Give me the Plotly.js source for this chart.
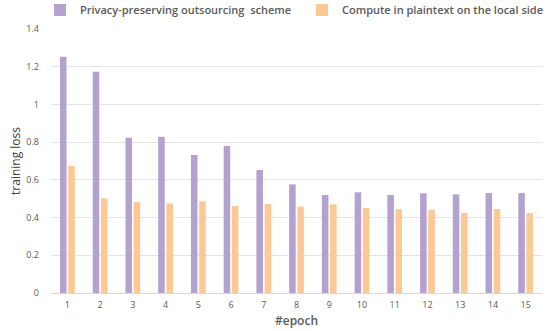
<!DOCTYPE html>
<html>
<head>
<meta charset="utf-8">
<script src="https://cdn.plot.ly/plotly-3.0.1.min.js"></script>
<style>html,body{margin:0;padding:0;background:#fff;}#chart{width:550px;height:331px;}</style>
</head>
<body>
<div id="chart"></div>
<script>
const epochs = ['1','2','3','4','5','6','7','8','9','10','11','12','13','14','15'];
const privacyLoss = [1.253, 1.173, 0.823, 0.829, 0.732, 0.779, 0.652, 0.576, 0.520, 0.534, 0.520, 0.529, 0.523, 0.530, 0.530];
const plainLoss = [0.673, 0.502, 0.482, 0.475, 0.486, 0.461, 0.472, 0.458, 0.470, 0.451, 0.444, 0.440, 0.424, 0.445, 0.424];
const seriesNames = ['Privacy-preserving outsourcing  scheme', 'Compute in plaintext on the local side'];
const yTicks = [0, 0.2, 0.4, 0.6, 0.8, 1, 1.2, 1.4];

const FONT = 'Open Sans, Liberation Sans, sans-serif';
const traces = [
  {type:'bar', x: epochs, y: privacyLoss, name: seriesNames[0], marker:{color:'#b3a2cf'}, legend: 'legend'},
  {type:'bar', x: epochs, y: plainLoss, name: seriesNames[1], marker:{color:'#fcc893'}, legend: 'legend2'}
];
const legFont = {family: FONT, size: 11, color: '#595959', weight: 600};
const legBase = {orientation: 'h', xref: 'container', yref: 'container', y: 1 - 10/331,
                 xanchor: 'left', yanchor: 'middle', font: legFont, bgcolor: 'rgba(0,0,0,0)'};
const layout = {
  width: 550, height: 331,
  margin: {l: 51, r: 8, t: 29, b: 38},
  paper_bgcolor: '#fff', plot_bgcolor: '#fff',
  barmode: 'group', bargap: 0.5, bargroupgap: 0.2,
  font: {family: FONT, color: '#595959', size: 9},
  showlegend: true,
  legend: Object.assign({}, legBase, {x: 40/550}),
  legend2: Object.assign({}, legBase, {x: 302/550}),
  xaxis: {type: 'category', showgrid: false, showline: true, linecolor: '#d9d9d9', linewidth: 1,
          ticks: '', tickfont: {size: 9, color: '#595959'}, ticklabelstandoff: 3,
          title: {text: '#epoch', font: {size: 12, color: '#595959', weight: 600}, standoff: 6}},
  yaxis: {range: [0, 1.4], tickvals: yTicks, ticktext: yTicks.map(String), showgrid: true,
          gridcolor: '#e4e4e4', zeroline: false, showline: false, ticks: '',
          tickfont: {size: 9, color: '#595959'}, ticklabelstandoff: 11,
          title: {text: 'training loss', font: {size: 12, color: '#404040'}, standoff: 3}}
};
Plotly.newPlot('chart', traces, layout, {displayModeBar: false, staticPlot: true});
</script>
</body>
</html>
